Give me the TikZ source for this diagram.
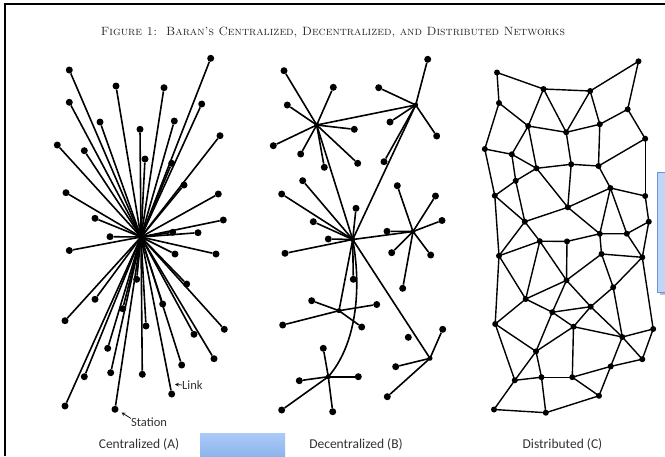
\documentclass[tikz,border=0pt]{standalone}
\usepackage{fontspec}
\newfontfamily\lblfont{Carlito}
\definecolor{boxtop}{RGB}{172,202,246}
\definecolor{boxbot}{RGB}{140,180,236}
\definecolor{rboxfill}{RGB}{192,214,246}
\definecolor{rboxdraw}{RGB}{105,145,220}
\begin{document}
\begin{tikzpicture}[x=1pt,y=-1pt,
  dot/.style={circle,fill=black,inner sep=0pt,minimum size=7pt},
  sdot/.style={circle,fill=black,inner sep=0pt,minimum size=6pt},
  hubdot/.style={circle,fill=black,inner sep=0pt,minimum size=5pt},
  link/.style={line width=1.6pt,black},
  lbl/.style={font=\lblfont\fontsize{13.5}{15}\selectfont,text=black!80,inner sep=0pt},
  small/.style={font=\lblfont\fontsize{12.5}{14}\selectfont,text=black!80,inner sep=0pt}]
\useasboundingbox (0,0) rectangle (665,456);
\fill[white] (0,0) rectangle (665,456);
% frame
\draw[line width=2pt] (665,3.5) -- (4.5,3.5) -- (4.5,456);
% title
\node[font=\fontsize{12}{14}\selectfont\scshape,text=black!85,inner sep=0pt] (title) at (333,32)
  {Figure 1:\ \ Baran's Centralized, Decentralized, and Distributed Networks};

% ---------------- Centralized ----------------
\node[hubdot] (hubA) at (141,237) {};
\foreach \n/\x/\y in {1/210.7/58.3,2/69.3/70,3/116/86,4/164/87.7,5/69.3/102.3,6/201.7/104,
  7/100/122,8/174.3/121,9/140/129.3,10/220/135.7,11/57.3/145,12/84.3/150.7,13/145/159,
  14/171.7/163.3,15/184/185,16/66/192.7,17/218.3/194,18/95/218.3,19/223.3/220,20/110/236.7,
  21/172.7/232.3,22/198/232.7,23/69.3/250.5,24/175/254,25/216/254,26/136.7/279.3,
  27/186.7/284,28/95/299.3,29/122.7/308.7,30/162.7/304,31/65/320.7,32/146/326,
  33/224.3/329.3,34/194/334.3,35/107.7/348.3,36/214/358.7,37/181.7/365,38/84.3/376.7,
  39/110.7/372.7,40/142.3/374.3,41/171.7/394,42/65/406,43/115/409.3}{
  \node[dot] (c\n) at (\x,\y) {};
  \draw[link] (hubA.center) -- (c\n);
}
\node[small,anchor=west] (linklbl) at (182,385) {Link};
\coordinate (linktip) at (175,384.3);
\draw[-stealth,line width=0.7pt] (linklbl.west) -- (linktip);
\node[small,anchor=west] (stationlbl) at (131,422) {Station};
\coordinate (stattip) at (121.5,412.5);
\draw[-stealth,line width=0.7pt] (stationlbl.north west) ++(0,1) -- (stattip);

% ---------------- Decentralized ----------------
\foreach \n/\x/\y in {1/316.7/125,2/415.7/105,3/352.7/239.5,4/413/231.5,5/339/310.7,6/328.3/376.7,7/430/358.3}{
  \node[hubdot] (h\n) at (\x,\y) {};
}
\foreach \h/\x/\y [count=\i] in {
  1/284/70.7,1/333.3/87.3,1/287.3/105,1/354.3/129.3,1/273.3/145.7,1/300.7/154,1/357.7/163.3,1/324.3/167.3,
  2/427.7/59.3,2/378.7/87.7,2/390/122,2/436.7/136,2/384/161.7,
  3/302.7/180.7,3/281.7/194,3/356/208.3,3/313.3/221.7,3/328.3/239,3/285/253.3,3/353.3/279.3,
  4/397.3/185.7,4/435.5/196,4/442/220.5,4/387/231.3,4/391.7/252.7,4/430.7/255,4/402.7/288.3,
  5/311.7/300.7,5/376.7/304.5,5/282.7/325,5/361.7/327,
  6/323.3/348.3,6/299.3/380.7,6/358.3/376.7,6/281.7/410,6/332.7/411.7,
  7/442.7/329.3,7/395.7/366.7,7/387.3/396.7}{
  \node[dot] (b\i) at (\x,\y) {};
  \draw[link] (h\h.center) -- (b\i);
}
\node[dot] (biso) at (408.3,337.3) {};
\draw[link] (h1.center) -- (h2.center);
\draw[link] (h1.center) -- (h3.center);
\draw[link] (h2.center) -- (h3.center);
\draw[link] (h3.center) -- (h4.center);
\draw[link] (h3.center) -- (h5.center);
\draw[link] (h3.center) -- (h7.center);
\draw[link] (h3.center) .. controls (362,290) and (356,345) .. (h6.center);

% ---------------- Distributed ----------------
\foreach \n/\x/\y in {1/497/72.5,2/638.5/61.3,3/543.5/89,4/590.2/91,5/499/103,6/627.7/109.3,
  7/528.2/126,8/566.2/132.3,9/599.8/124.3,10/645.2/138.7,11/484.8/149,12/511.8/154.3,
  13/536.5/168.3,14/571.2/164.3,15/598.5/166,16/515.7/180.8,17/610.4/188,18/494.8/195.7,
  19/645.2/196,20/567.8/207.3,21/524.8/221.7,22/648.8/221.7,23/599.8/233.8,24/626.8/233.7,
  25/539.8/241.2,26/567/241.4,27/499/255.8,28/601.5/254,29/642.3/257.3,30/566.5/280.3,
  31/613.2/287.3,32/525.7/299,33/552.3/312.2,34/590.7/306.7,35/495.2/324,36/573.5/326.7,
  37/622.3/337,38/653.2/329,39/536/351.4,40/642.3/359.2,41/610.7/366.4,42/514.8/380.3,
  43/541.5/377.2,44/572.3/377.2,45/599/395.8,46/494/409.5,47/545.8/412.7}{
  \node[sdot] (d\n) at (\x,\y) {};
}
\foreach \a/\b in {1/3,1/5,3/4,4/2,2/6,6/10,6/9,3/7,3/8,4/8,4/9,5/7,5/11,7/8,8/9,7/12,7/13,
  8/14,9/15,10/15,10/19,11/12,11/18,12/13,12/16,13/14,14/15,13/16,13/20,14/20,15/17,16/18,
  16/21,18/21,18/27,20/21,20/17,17/19,17/23,17/24,19/22,22/24,23/24,20/23,21/25,25/26,26/23,
  21/27,27/25,25/30,26/30,25/32,28/30,23/28,28/29,24/29,22/29,28/31,29/31,30/32,27/32,27/35,
  32/33,32/35,30/33,30/34,31/34,33/34,33/36,34/36,34/37,33/39,36/37,36/44,36/39,37/38,37/40,
  37/41,31/37,29/38,38/40,40/41,41/44,41/45,44/45,39/35,39/42,39/43,35/42,42/43,42/46,43/44,
  43/47,46/47,47/45}{
  \draw[link,line width=1.4pt] (d\a.center) -- (d\b.center);
}

% ---------------- labels ----------------
\node[lbl] (labA) at (139,444) {Centralized (A)};
\node[lbl] (labB) at (356,444) {Decentralized (B)};
\node[lbl] (labC) at (562.5,444) {Distributed (C)};

% ---------------- blue boxes ----------------
\shade[top color=boxtop,bottom color=boxbot] (200,433) rectangle (285,456);
\fill[black!25] (660,175) rectangle (665,295);
\draw[draw=rboxdraw,line width=1pt,fill=rboxfill] (657,172) rectangle (668,292);
\end{tikzpicture}
\end{document}
